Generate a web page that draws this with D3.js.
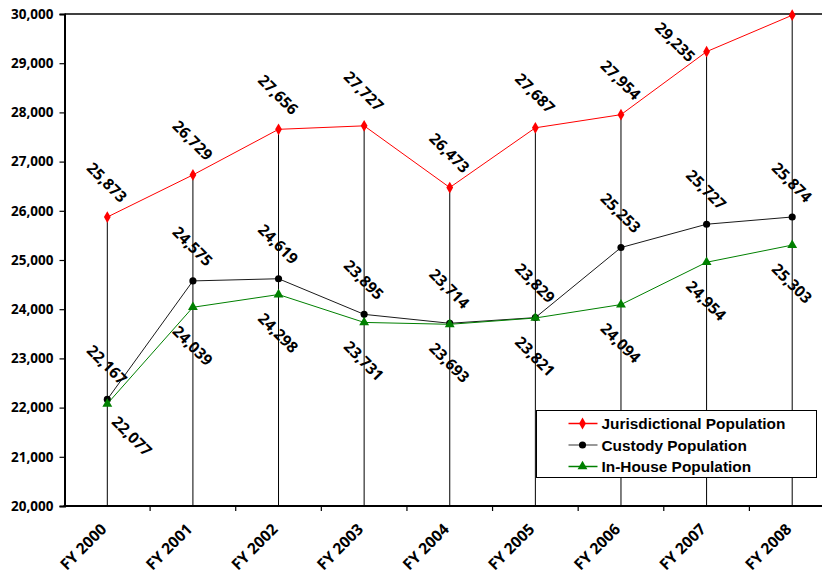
<!DOCTYPE html>
<html>
<head>
<meta charset="utf-8">
<script src="https://cdn.jsdelivr.net/npm/d3@7"></script>
<style>
  html, body { margin: 0; padding: 0; background: #fff; }
  svg { display: block; }
</style>
</head>
<body>
<svg id="chart" width="822" height="576"></svg>
<script>
// Fiscal years on the category axis
const years = ["FY 2000", "FY 2001", "FY 2002", "FY 2003", "FY 2004", "FY 2005", "FY 2006", "FY 2007", "FY 2008"];

// Population counts per fiscal year
const jurisdictional = [25873, 26729, 27656, 27727, 26473, 27687, 27954, 29235, 29975];
const custody        = [22167, 24575, 24619, 23895, 23714, 23829, 25253, 25727, 25874];
const inHouse        = [22077, 24039, 24298, 23731, 23693, 23821, 24094, 24954, 25303];

// Value axis ticks
const yTicks = [20000, 21000, 22000, 23000, 24000, 25000, 26000, 27000, 28000, 29000, 30000];

// Points left without a value label
const unlabeled = { "Jurisdictional Population": ["FY 2008"] };

const series = [
  { name: "Jurisdictional Population", values: jurisdictional, color: "#ff0000", lineColor: "#ff0000", legendLine: "#ff0000", marker: "diamond", labelPos: "above" },
  { name: "Custody Population",        values: custody,        color: "#000000", lineColor: "#1a1a1a", legendLine: "#777777", marker: "circle",  labelPos: "above" },
  { name: "In-House Population",       values: inHouse,        color: "#008000", lineColor: "#008000", legendLine: "#008000", marker: "triangle", labelPos: "below" }
];

// Hand-placed label: moved off the drop line so it clears the axis corner
const labelNudge = { "In-House Population|FY 2000": [25, -6] };

const svg = d3.select("#chart");
const plot = { left: 64.5, top: 14, bottom: 506, right: 835 };

const x = d3.scaleBand().domain(years).range([plot.left, plot.right]).padding(0);
const y = d3.scaleLinear().domain([20000, 30000]).range([plot.bottom, plot.top]);
const cx = d => x(d) + x.bandwidth() / 2;

const tickFont = "'Open Sans', 'DejaVu Sans', sans-serif";

// Top border of the plot area
svg.append("line")
  .attr("x1", plot.left).attr("x2", plot.right)
  .attr("y1", plot.top).attr("y2", plot.top)
  .attr("stroke", "#000").attr("stroke-width", 1.5);

// Drop lines from the highest point of each year down to the category axis
svg.append("g").selectAll("line")
  .data(years)
  .join("line")
  .attr("x1", d => cx(d)).attr("x2", d => cx(d))
  .attr("y1", (d, i) => y(d3.max(series, s => s.values[i])))
  .attr("y2", plot.bottom)
  .attr("stroke", "#000").attr("stroke-width", 1);

// Value axis
const yAxis = svg.append("g")
  .attr("transform", `translate(${plot.left},0)`)
  .call(d3.axisLeft(y).tickValues(yTicks).tickFormat(d3.format(",")).tickSize(5).tickPadding(6));
yAxis.select(".domain").attr("stroke-width", 2);
yAxis.selectAll(".tick line").attr("stroke-width", 1.2);
yAxis.selectAll("text")
  .attr("font-family", tickFont).attr("font-weight", "bold").attr("font-size", "13.5px").attr("fill", "#000");

// Category axis, ticks between the years
const xAxisG = svg.append("g").attr("transform", `translate(0,${plot.bottom})`);
xAxisG.append("line")
  .attr("x1", plot.left - 1).attr("x2", plot.right)
  .attr("stroke", "#000").attr("stroke-width", 2);
xAxisG.selectAll("line.tick")
  .data(years)
  .join("line").attr("class", "tick")
  .attr("x1", d => x(d) + x.bandwidth()).attr("x2", d => x(d) + x.bandwidth())
  .attr("y1", 0).attr("y2", 5)
  .attr("stroke", "#000").attr("stroke-width", 1.2);
xAxisG.selectAll("text")
  .data(years)
  .join("text")
  .attr("transform", d => `translate(${cx(d) - 4},${20}) rotate(-45)`)
  .attr("text-anchor", "end")
  .attr("dominant-baseline", "central")
  .attr("font-family", tickFont).attr("font-weight", "bold").attr("font-size", "15.5px")
  .text(d => d);

// Marker shapes
const markerPath = {
  diamond: d3.symbol().type(d3.symbolDiamond).size(40)(),
  circle: d3.symbol().type(d3.symbolCircle).size(40)(),
  triangle: d3.symbol().type(d3.symbolTriangle).size(42)()
};

const line = d3.line().x(d => cx(d.year)).y(d => y(d.value));

series.forEach(s => {
  const pts = years.map((yr, i) => ({ year: yr, value: s.values[i] }));
  const g = svg.append("g");
  g.append("path")
    .attr("d", line(pts))
    .attr("fill", "none")
    .attr("stroke", s.lineColor)
    .attr("stroke-width", 1);
  g.selectAll("path.m")
    .data(pts)
    .join("path").attr("class", "m")
    .attr("d", markerPath[s.marker])
    .attr("transform", d => `translate(${cx(d.year)},${y(d.value)})`)
    .attr("fill", s.color);
});

// Value labels, rotated 45 degrees
const fmt = d3.format(",");
const halfExtent = 19;
series.forEach(s => {
  const skip = unlabeled[s.name] || [];
  const pts = years.map((yr, i) => ({ year: yr, value: s.values[i] }))
    .filter(d => !skip.includes(d.year));
  svg.append("g").selectAll("text")
    .data(pts)
    .join("text")
    .attr("transform", d => {
      let px = cx(d.year), py = y(d.value);
      let lx = px, ly = s.labelPos === "above" ? py - 35 : py + 38;
      // labels that would cross the top border sit to the left of the point
      if (ly - halfExtent < plot.top) { lx = px - 31; ly = py - 10; }
      const n = labelNudge[s.name + "|" + d.year];
      if (n) { lx += n[0]; ly += n[1]; }
      return `translate(${lx},${ly}) rotate(45)`;
    })
    .attr("text-anchor", "middle")
    .attr("dominant-baseline", "central")
    .attr("font-family", tickFont).attr("font-weight", "bold").attr("font-size", "15.5px")
    .attr("fill", "#000")
    .text(d => fmt(d.value));
});

// Legend
const legend = svg.append("g").attr("transform", "translate(536.5,410.5)");
legend.append("rect")
  .attr("width", 280).attr("height", 67)
  .attr("fill", "#fff").attr("stroke", "#000").attr("stroke-width", 1);
series.forEach((s, i) => {
  const row = legend.append("g").attr("transform", `translate(0,${13 + i * 21.5})`);
  row.append("line")
    .attr("x1", 32).attr("x2", 61)
    .attr("stroke", s.legendLine).attr("stroke-width", 1.5);
  row.append("path")
    .attr("d", markerPath[s.marker])
    .attr("transform", "translate(46,0)")
    .attr("fill", s.color);
  row.append("text")
    .attr("x", 65).attr("y", 0)
    .attr("dominant-baseline", "central")
    .attr("font-family", "'Liberation Sans', Arial, sans-serif")
    .attr("font-weight", "bold").attr("font-size", "15.4px")
    .text(s.name);
});
</script>
</body>
</html>
